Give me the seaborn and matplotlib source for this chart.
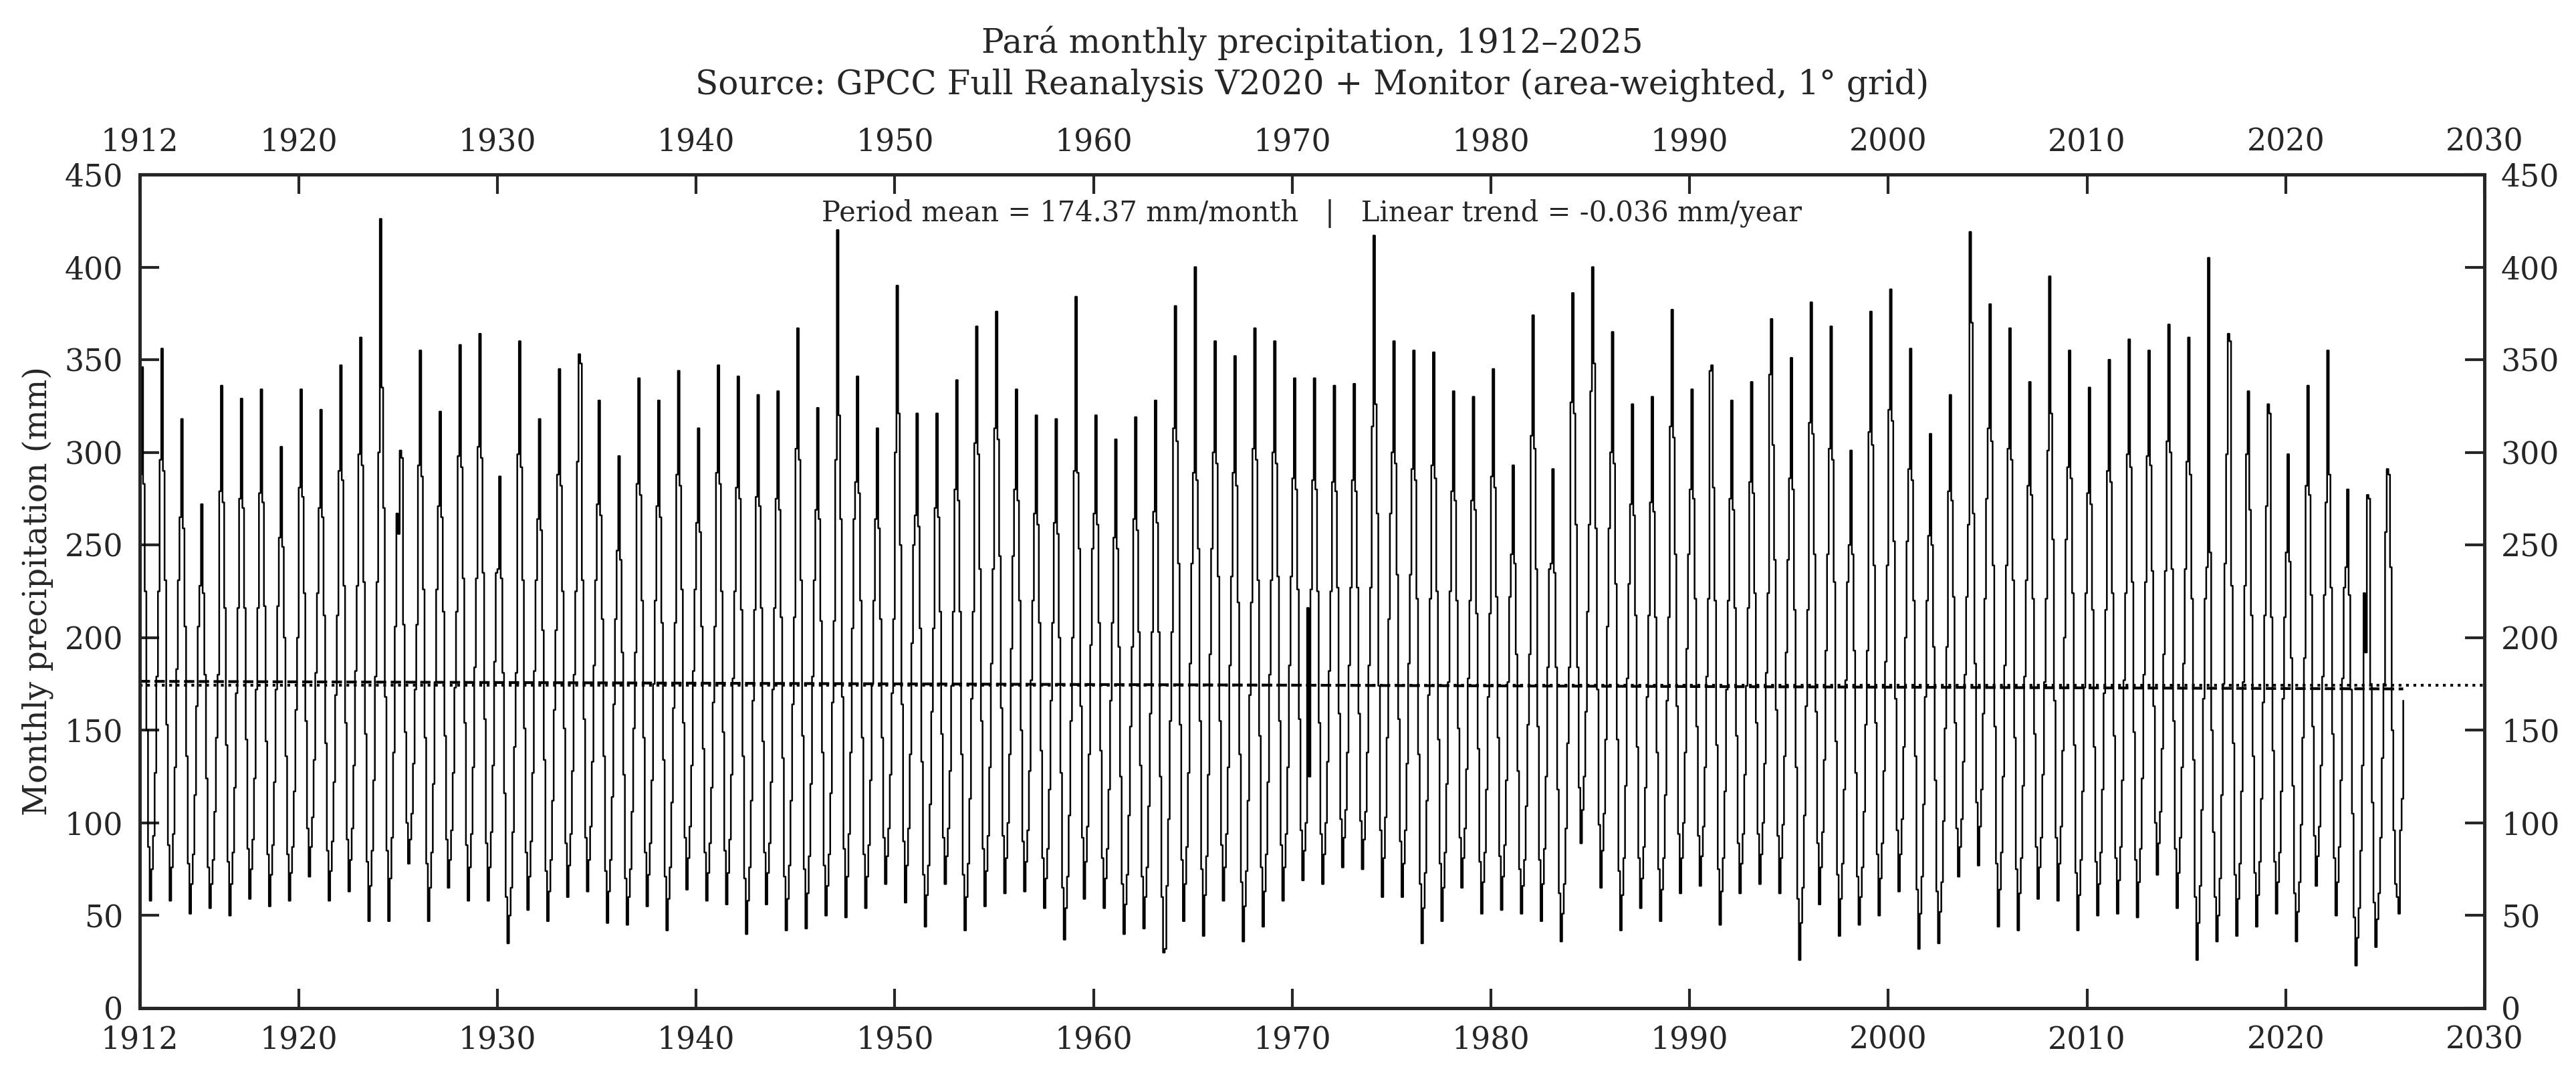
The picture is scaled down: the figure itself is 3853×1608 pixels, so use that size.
import numpy as np
import pandas as pd
import matplotlib
matplotlib.use("Agg")
import matplotlib.pyplot as plt
import seaborn as sns

# Monthly precipitation (mm), Jan..Dec per year
p1910s = [  # 1912-1919
    288, 346, 283, 225, 150, 87, 58, 75, 93, 127, 179, 225,
    296, 356, 290, 231, 153, 88, 58, 76, 94, 130, 183, 231,
    265, 318, 259, 206, 136, 78, 51, 67, 83, 115, 163, 206,
    228, 272, 224, 180, 124, 76, 54, 67, 80, 106, 146, 180,
    279, 336, 273, 216, 142, 79, 50, 67, 84, 119, 170, 216,
    275, 329, 270, 216, 145, 86, 59, 75, 91, 124, 172, 216,
    278, 334, 273, 217, 144, 83, 55, 72, 88, 122, 172, 217,
    254, 303, 249, 200, 136, 83, 58, 73, 87, 117, 161, 200,
]
p1920s = [
    281, 334, 276, 224, 155, 97, 71, 87, 103, 134, 181, 224,
    270, 323, 265, 212, 143, 85, 58, 74, 90, 122, 169, 212,
    290, 347, 285, 228, 154, 91, 63, 80, 97, 131, 182, 228,
    299, 362, 293, 230, 148, 79, 47, 66, 85, 123, 179, 230,
    300, 426, 335, 270, 168, 85, 47, 70, 92, 138, 206, 267,
    256, 301, 297, 207, 149, 100, 78, 91, 105, 132, 172, 207,
    293, 355, 287, 226, 146, 78, 47, 65, 84, 121, 176, 226,
    271, 322, 265, 214, 147, 91, 65, 80, 96, 127, 173, 214,
    298, 358, 292, 232, 154, 88, 58, 76, 94, 130, 184, 232,
    303, 364, 297, 235, 156, 89, 58, 76, 95, 131, 187, 235,
]
p1930s = [
    237, 287, 232, 181, 116, 60, 35, 50, 65, 95, 141, 181,
    299, 360, 292, 231, 151, 84, 53, 71, 90, 127, 182, 231,
    264, 318, 258, 204, 134, 74, 47, 63, 80, 112, 161, 204,
    288, 345, 282, 225, 151, 89, 60, 77, 94, 128, 180, 225,
    295, 353, 348, 231, 156, 92, 63, 80, 98, 133, 185, 231,
    272, 328, 266, 210, 136, 74, 46, 63, 80, 114, 164, 210,
    247, 298, 242, 192, 126, 70, 45, 60, 75, 106, 151, 192,
    283, 340, 277, 220, 146, 84, 55, 72, 89, 123, 175, 220,
    271, 328, 265, 208, 134, 71, 42, 59, 76, 111, 162, 208,
    288, 344, 282, 226, 154, 92, 64, 81, 98, 131, 182, 226,
]
p1940s = [
    262, 313, 257, 206, 140, 84, 58, 73, 89, 119, 165, 206,
    289, 347, 283, 225, 149, 85, 56, 73, 91, 126, 178, 225,
    281, 341, 275, 215, 136, 70, 40, 58, 76, 112, 166, 215,
    276, 331, 271, 216, 144, 84, 56, 73, 89, 122, 172, 216,
    275, 333, 269, 211, 135, 71, 42, 59, 77, 112, 164, 211,
    302, 367, 296, 231, 147, 75, 43, 62, 82, 121, 179, 231,
    269, 324, 264, 209, 138, 77, 50, 66, 83, 116, 165, 209,
    296, 420, 320, 264, 168, 86, 49, 71, 94, 138, 205, 264,
    284, 341, 278, 220, 146, 83, 54, 71, 88, 123, 175, 220,
    264, 313, 259, 210, 146, 92, 67, 82, 97, 126, 170, 210,
]
p1950s = [
    300, 390, 321, 250, 164, 90, 57, 77, 97, 137, 197, 250,
    266, 321, 260, 205, 133, 72, 44, 61, 77, 110, 160, 205,
    270, 321, 265, 214, 148, 92, 67, 82, 97, 128, 174, 214,
    280, 339, 274, 214, 137, 72, 42, 60, 78, 113, 167, 214,
    305, 368, 299, 237, 155, 86, 55, 74, 93, 130, 186, 237,
    313, 376, 307, 244, 162, 93, 62, 81, 100, 137, 194, 244,
    280, 334, 274, 220, 150, 90, 63, 79, 96, 128, 177, 220,
    267, 320, 261, 208, 139, 81, 54, 70, 86, 118, 166, 208,
    262, 318, 256, 200, 127, 65, 37, 54, 71, 104, 155, 200,
    290, 384, 289, 248, 163, 92, 59, 79, 98, 137, 196, 248,
]
p1960s = [
    267, 320, 261, 208, 139, 81, 54, 70, 86, 118, 166, 208,
    254, 307, 248, 195, 125, 67, 40, 56, 72, 104, 152, 195,
    264, 319, 258, 203, 131, 71, 43, 60, 76, 109, 159, 203,
    268, 328, 262, 203, 125, 60, 30, 32, 66, 102, 155, 203,
    313, 379, 306, 240, 153, 80, 47, 67, 87, 127, 186, 240,
    289, 400, 285, 248, 155, 75, 39, 61, 82, 126, 191, 248,
    300, 360, 294, 233, 155, 88, 58, 76, 94, 130, 185, 233,
    289, 352, 282, 219, 137, 68, 36, 55, 74, 112, 169, 219,
    302, 367, 296, 231, 147, 76, 44, 63, 83, 122, 180, 231,
    300, 360, 294, 233, 155, 88, 58, 76, 94, 130, 185, 233,
]
p1970s = [
    286, 340, 280, 226, 156, 96, 69, 85, 100, 216, 125, 226,
    285, 340, 280, 225, 154, 94, 67, 83, 100, 133, 182, 225,
    284, 336, 279, 227, 159, 102, 76, 92, 107, 138, 185, 227,
    285, 337, 279, 227, 159, 101, 75, 91, 106, 138, 185, 227,
    314, 417, 326, 267, 174, 96, 60, 81, 103, 146, 210, 267,
    300, 360, 294, 234, 156, 90, 60, 78, 96, 132, 186, 234,
    291, 355, 285, 221, 137, 67, 35, 54, 73, 112, 169, 221,
    293, 354, 286, 225, 145, 78, 47, 65, 84, 121, 176, 225,
    279, 333, 274, 220, 151, 92, 65, 81, 97, 129, 178, 220,
    274, 330, 269, 213, 140, 79, 51, 68, 84, 118, 168, 213,
]
p1980s = [
    287, 345, 281, 222, 146, 82, 53, 71, 88, 123, 176, 222,
    245, 293, 240, 191, 128, 75, 51, 66, 80, 109, 153, 191,
    309, 374, 302, 237, 152, 80, 47, 67, 86, 125, 184, 237,
    240, 291, 235, 184, 118, 62, 36, 51, 67, 97, 143, 184,
    327, 386, 321, 261, 184, 119, 89, 107, 125, 160, 214, 261,
    333, 400, 348, 259, 172, 99, 65, 85, 105, 145, 206, 259,
    300, 365, 294, 229, 145, 74, 42, 61, 81, 120, 178, 229,
    272, 326, 266, 212, 141, 81, 54, 70, 87, 119, 168, 212,
    273, 330, 268, 211, 138, 75, 47, 64, 81, 115, 166, 211,
    314, 377, 308, 245, 163, 94, 62, 81, 100, 138, 194, 245,
]
p1990s = [
    280, 334, 275, 221, 152, 93, 66, 82, 98, 130, 179, 221,
    344, 347, 281, 220, 142, 75, 45, 63, 81, 117, 172, 220,
    275, 328, 269, 216, 147, 89, 62, 78, 94, 126, 174, 216,
    284, 338, 278, 224, 154, 94, 67, 83, 100, 132, 181, 224,
    342, 372, 304, 242, 161, 93, 62, 81, 99, 136, 192, 242,
    286, 351, 280, 215, 130, 59, 26, 46, 65, 104, 163, 215,
    316, 381, 310, 245, 160, 89, 56, 76, 95, 134, 193, 245,
    302, 368, 296, 230, 144, 72, 39, 59, 78, 118, 177, 230,
    250, 301, 245, 193, 127, 71, 45, 60, 76, 106, 153, 193,
    311, 376, 304, 239, 154, 83, 50, 70, 89, 128, 187, 239,
]
p2000s = [
    323, 388, 317, 252, 167, 96, 63, 83, 102, 141, 200, 252,
    291, 356, 285, 220, 136, 64, 32, 51, 71, 110, 168, 220,
    255, 310, 250, 195, 123, 63, 35, 52, 68, 101, 151, 195,
    279, 331, 274, 222, 154, 97, 71, 87, 102, 133, 180, 222,
    261, 419, 370, 267, 186, 111, 77, 98, 118, 159, 221, 275,
    313, 380, 306, 239, 152, 78, 44, 64, 84, 125, 185, 239,
    302, 367, 296, 231, 146, 75, 42, 62, 81, 120, 179, 231,
    282, 338, 277, 221, 148, 87, 59, 76, 92, 126, 176, 221,
    301, 395, 321, 253, 166, 92, 58, 78, 98, 139, 200, 253,
    292, 355, 286, 224, 142, 73, 42, 61, 80, 117, 173, 224,
]
p2010s = [
    278, 335, 272, 215, 141, 79, 50, 67, 84, 118, 170, 215,
    290, 350, 284, 224, 147, 81, 51, 69, 87, 123, 177, 224,
    299, 361, 292, 230, 149, 80, 49, 68, 86, 124, 180, 230,
    298, 355, 293, 236, 163, 100, 72, 89, 106, 140, 191, 236,
    306, 369, 300, 237, 155, 86, 54, 73, 92, 130, 186, 237,
    295, 362, 288, 221, 134, 60, 26, 46, 66, 107, 167, 221,
    238, 405, 246, 150, 95, 60, 36, 50, 70, 115, 175, 240,
    299, 364, 360, 228, 143, 72, 39, 59, 78, 117, 176, 228,
    299, 333, 269, 212, 136, 73, 44, 61, 79, 113, 165, 212,
    271, 326, 321, 211, 139, 79, 51, 68, 84, 117, 167, 211,
]
p2020s = [  # 2020-2025
    246, 299, 241, 189, 120, 62, 36, 52, 68, 99, 146, 189,
    282, 336, 277, 223, 152, 93, 66, 82, 98, 131, 179, 223,
    273, 355, 288, 227, 148, 81, 50, 68, 87, 123, 178, 227,
    238, 280, 223, 172, 105, 49, 23, 38, 54, 85, 131, 224,
    192, 277, 275, 175, 111, 57, 33, 48, 62, 92, 135, 175,
    257, 291, 288, 238, 150, 96, 67, 60, 51, 96, 113, 166,
]

first_year = 1912
period_mean = 174.37      # mm/month
trend_per_year = -0.036   # mm/year

# --- assemble monthly series
precip = np.array(p1910s + p1920s + p1930s + p1940s + p1950s + p1960s
                  + p1970s + p1980s + p1990s + p2000s + p2010s + p2020s, dtype=float)
t = first_year + np.arange(len(precip)) / 12.0
df = pd.DataFrame({"time": t, "precip": precip})

# trend line through the period mean
t_mid = t.mean()
trend = period_mean + trend_per_year * (t - t_mid)

# --- style
sns.set_style("ticks")
plt.rcParams["font.family"] = ["DejaVu Serif"]
plt.rcParams["font.size"] = 11

W, H, DPI = 3854, 1608, 300
fig = plt.figure(figsize=(W / DPI, H / DPI), dpi=DPI)
ax = fig.add_axes([209 / W, 100 / H, (3716 - 209) / W, (1508 - 261) / H])

sns.lineplot(data=df, x="time", y="precip", drawstyle="steps-post",
             color="black", linewidth=0.6, errorbar=None, ax=ax)
ax.plot(t, trend, color="black", linestyle="--", linewidth=1.0)
ax.axhline(period_mean, color="black", linestyle=":", linewidth=1.0)

ax.set_xlim(1912, 2030)
ax.set_ylim(0, 450)
ax.set_xticks([1912] + list(range(1920, 2031, 10)))
ax.set_yticks(range(0, 451, 50))
ax.tick_params(which="major", direction="in", length=7, width=1.0, pad=6,
               top=True, right=True, labeltop=True, labelright=True, labelsize=11)
for sp in ax.spines.values():
    sp.set_linewidth(1.2)
    sp.set_visible(True)

ax.set_xlabel("")
ax.set_ylabel("Monthly precipitation (mm)", fontsize=11.5)
ax.set_title("Pará monthly precipitation, 1912\u20132025\n"
             "Source: GPCC Full Reanalysis V2020 + Monitor (area-weighted, 1° grid)",
             fontsize=12, linespacing=1.3, pad=12)

ax.text(0.5, 0.953,
        f"Period mean = {period_mean:.2f} mm/month   |   Linear trend = {trend_per_year:.3f} mm/year",
        transform=ax.transAxes, ha="center", va="center", fontsize=10)

fig.savefig("out.png", dpi=DPI)
